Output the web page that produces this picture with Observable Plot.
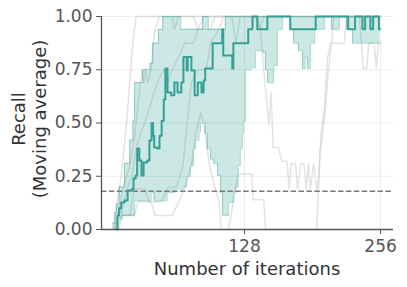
<!DOCTYPE html>
<html><head><meta charset="utf-8">
<script src="https://cdn.jsdelivr.net/npm/d3@7"></script>
<script src="https://cdn.jsdelivr.net/npm/@observablehq/plot@0.6"></script>
<style>body{margin:0;background:#fff}</style>
</head><body><div id="chart"></div>
<script>
// ---- data (iteration, moving-average recall) ----
const xTicks = [128, 256];
const yTicks = [0, 0.25, 0.5, 0.75, 1];
const baseline = 0.18;
const xLabel = "Number of iterations";
const yLabelLines = ["Recall", "(Moving average)"];

const meanCurve = [[7,0],[8.5,0.066],[10,0.1],[12,0.127],[15,0.136],[18,0.183],[22,0.19],[23.5,0.24],[25.5,0.254],[27,0.38],[29,0.324],[31,0.254],[33,0.315],[36.5,0.324],[38.5,0.418],[40.5,0.5],[42,0.44],[43,0.385],[46,0.38],[48,0.44],[50,0.51],[52,0.61],[53.5,0.756],[55.5,0.643],[59,0.63],[62,0.69],[65,0.643],[68.5,0.69],[70.5,0.81],[73.5,0.746],[74.5,0.81],[78,0.746],[81,0.63],[84,0.69],[87.5,0.643],[89.5,0.7],[91,0.756],[98,0.875],[107,0.94],[108,0.817],[115,0.817],[116.5,0.756],[117.5,0.875],[131.5,0.94],[135.5,1],[140,0.94],[149.5,1],[171,0.94],[195,1],[225.5,0.94],[232,1],[239,0.94],[241.5,1],[246.5,0.94],[249,1],[254.5,0.94],[255.5,0.94]];

const bandLow = [[4,0],[7.5,0.05],[13,0.066],[24.5,0.136],[40,0.174],[43,0.136],[55,0.174],[62,0.19],[70,0.2],[73.5,0.25],[77,0.3],[80,0.38],[82,0.42],[85,0.46],[86.6,0.5],[91,0.45],[93,0.38],[96,0.33],[99,0.31],[102.6,0.254],[105.4,0.174],[107.3,0.066],[112.9,0.127],[117.6,0.174],[119.5,0.2],[122,0.3],[124,0.38],[126,0.45],[127,0.51],[129,0.75],[134,0.76],[138.3,0.84],[146,0.83],[147.7,0.75],[149.6,0.69],[155.3,0.77],[159,0.94],[163.7,1],[171.3,0.94],[174.1,0.875],[178.8,0.84],[182.6,0.756],[185,0.81],[187.3,0.756],[190.1,0.875],[194,0.94],[203.3,1],[209.8,0.94],[217.4,1],[224,0.94],[229.6,0.875],[255.5,0.875]];

const bandHigh = [[4,0.03],[6,0.08],[7.5,0.12],[10,0.2],[15,0.31],[20,0.42],[23,0.51],[24.5,0.69],[32,0.75],[39,0.78],[41.5,0.875],[47,0.94],[51,1],[68,0.94],[88.5,1],[94,0.94],[110,1],[255.5,1]];

const run1 = [[4,0],[8,0.12],[12,0.25],[17,0.5],[20,0.7],[23,0.88],[26,1],[60,1],[62,0.94],[66,1],[140,1],[142,0.94],[146,1],[256,1]];
const run2 = [[6,0],[10,0.1],[14,0.2],[20,0.3],[25,0.45],[28,0.6],[30,0.69],[32,0.75],[33,0.69],[35,0.75],[37,0.69],[40,0.75],[42,0.875],[44,0.94],[48,1],[80,1],[84,0.94],[96,0.94],[100,1],[256,1]];
const run3 = [[6,0],[10,0.1],[14,0.066],[24,0.066],[28,0.13],[40,0.13],[44,0.066],[60,0.066],[66,0.13],[72,0.2],[78,0.3],[82,0.45],[87,0.55],[91,0.45],[95,0.3],[100,0.2],[104,0.13],[106,0],[113,0],[118,0.15],[122,0.26],[135,0.26],[136,0.14],[146,0.14],[148,0],[196,0],[199,0.36],[203,0.51],[207,0.75],[210,0.875],[212,1],[236,1],[238,0.875],[240,0.756],[243,0.756],[245,0.875],[250,0.875],[252,0.756],[254,0.875],[256,0.875]];
const run4 = [[8,0],[12,0.066],[20,0.066],[24,0.19],[34,0.19],[38,0.13],[50,0.13],[56,0.2],[64,0.2],[70,0.3],[74,0.5],[78,0.69],[84,0.75],[92,0.75],[96,0.875],[104,0.94],[108,1],[140,1],[143,0.94],[146,0.75],[149,0.6],[151,0.49],[153,0.64],[155,0.385],[160,0.385],[163,0.32],[168,0.32],[170,0.19],[172,0.31],[176,0.31],[178,0.19],[181,0.31],[184,0.31],[186,0.19],[188,0.31],[190,0.19],[193,0.31],[196,0.19],[198,0.25],[200,0.45],[203,0.56],[206,0.8],[209,0.875],[222,0.875],[224,1],[256,1]];
const run5 = [[10,0],[14,0.12],[18,0.2],[22,0.25],[26,0.38],[30,0.45],[34,0.5],[38,0.56],[42,0.63],[46,0.69],[52,0.75],[56,0.69],[60,0.75],[66,0.81],[72,0.875],[80,0.875],[84,0.94],[90,1],[116,1],[118,0.94],[120,0.875],[122,0.94],[124,1],[256,1]];

// ---- build tables ----
const runs = [run1, run2, run3, run4, run5].flatMap((r, i) => r.map(([it, v]) => ({run: i, it, v})));
const stepAt = (arr, t) => { let v = arr[0][1]; for (const [x, y] of arr) { if (x <= t) v = y; else break; } return v; };
const bandIts = Array.from(new Set([...bandLow, ...bandHigh].map(d => d[0]))).sort((a, b) => a - b);
const band = bandIts.map(it => ({it, lo: stepAt(bandLow, it), hi: stepAt(bandHigh, it)}));
const mean = meanCurve.map(([it, v]) => ({it, v}));

const teal = "#2a9d8f";
const xDomain = [-6.6, 268.2];

const chart = Plot.plot({
  width: 407, height: 287,
  marginLeft: 101, marginRight: 14, marginTop: 16, marginBottom: 58,
  x: {domain: xDomain},
  y: {domain: [0, 1]},
  style: {fontFamily: "DejaVu Sans", background: "white", overflow: "visible"},
  marks: [
    Plot.gridY(yTicks.slice(1), {stroke: "#ececec", strokeOpacity: 1}),
    Plot.gridX(xTicks, {stroke: "#ececec", strokeOpacity: 1}),
    Plot.line(runs, {x: "it", y: "v", z: "run", stroke: "#c8c8c8", strokeOpacity: 0.5, strokeWidth: 1.5}),
    Plot.areaY(band, {x: "it", y1: "lo", y2: "hi", curve: "step-after", fill: teal, fillOpacity: 0.24}),
    Plot.line(band, {x: "it", y: "lo", curve: "step-after", stroke: teal, strokeOpacity: 0.35, strokeWidth: 1.2}),
    Plot.line(band, {x: "it", y: "hi", curve: "step-after", stroke: teal, strokeOpacity: 0.35, strokeWidth: 1.2}),
    Plot.ruleY([baseline], {stroke: "#7a7a7a", strokeWidth: 1.5, strokeDasharray: "5.5,2.4"}),
    Plot.line(mean, {x: "it", y: "v", curve: "step-after", stroke: "#35a096", strokeWidth: 2}),
    Plot.ruleX([xDomain[0]], {stroke: "#555", strokeWidth: 1.3}),
    Plot.ruleY([0], {stroke: "#555", strokeWidth: 1.3}),
    Plot.axisY(yTicks, {tickFormat: d3.format(".2f"), tickSize: 5, tickPadding: 4, fontSize: 17, color: "#555", label: null}),
    Plot.axisX(xTicks, {tickSize: 5, tickPadding: 5, fontSize: 17, color: "#555", label: null})
  ]
});

const svg = d3.select(chart);
svg.append("text")
  .attr("x", 247).attr("y", 275)
  .attr("text-anchor", "middle")
  .attr("font-family", "DejaVu Sans").attr("font-size", 18).attr("fill", "#333")
  .text(xLabel);
const yl = svg.append("text")
  .attr("transform", "translate(29,119) rotate(-90)")
  .attr("text-anchor", "middle")
  .attr("font-family", "DejaVu Sans").attr("font-size", 18).attr("fill", "#333");
yLabelLines.forEach((s, i) => {
  yl.append("tspan").attr("x", 0).attr("y", (i - 0.5) * 21).attr("dominant-baseline", "central").text(s);
});
document.getElementById("chart").appendChild(chart);
</script>
</body></html>
